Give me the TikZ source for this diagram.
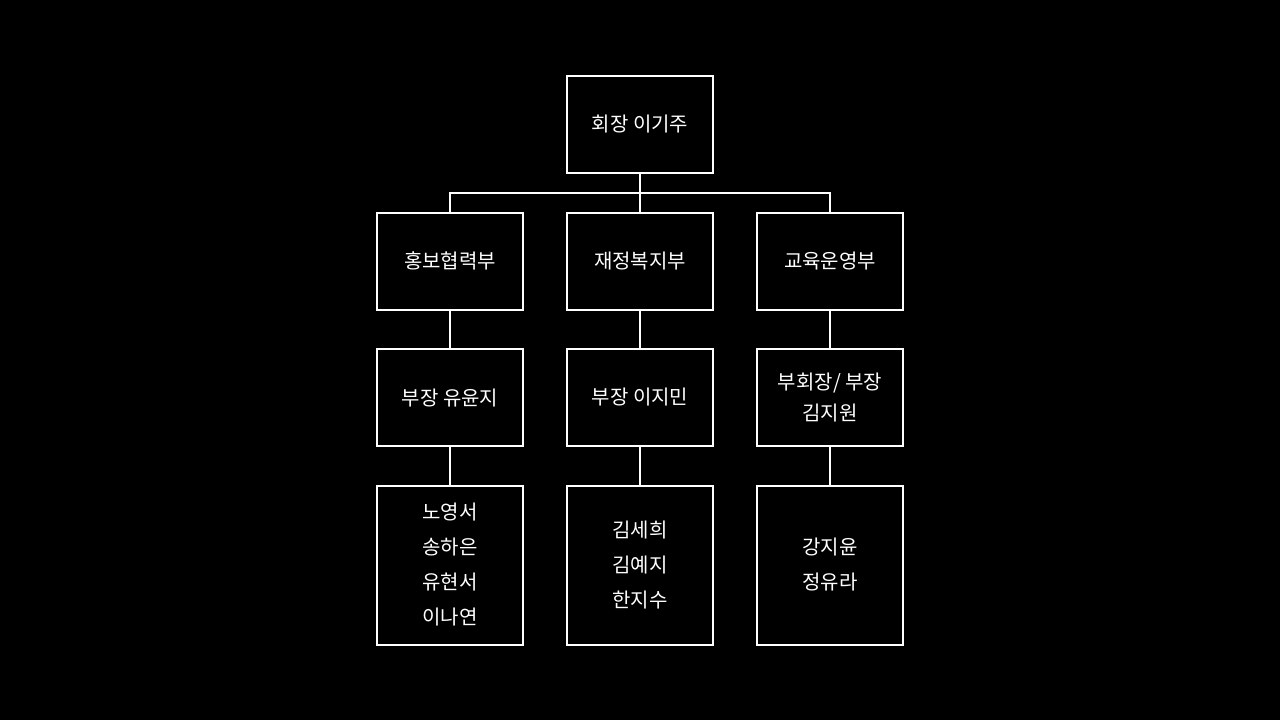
\documentclass[tikz,border=0pt]{standalone}
\usepackage{fontspec}
\setmainfont{Noto Sans CJK KR}
\usetikzlibrary{positioning,calc}

\begin{document}
\begin{tikzpicture}[x=1pt,y=1pt,node distance=18.75pt and 21pt,member/.style={rectangle, draw=white, line width=1pt, text=white, inner sep=0pt, minimum width=73pt, minimum height=48.5pt, align=center, font=\fontsize{10}{15.5}\selectfont},team/.style={member, minimum height=79.5pt, font=\fontsize{10}{17.5}\selectfont},link/.style={draw=white, line width=1pt}]
                \fill[black] (0,0) rectangle (640,-360);
                \useasboundingbox (0,0) rectangle (640,-360);
                \node[member] (president) at (320,-62.25) {회장 이기주};
                \node[member, below=of president] (finance) {재정복지부};
                \node[member, left=of finance] (promo) {홍보협력부};
                \node[member, right=of finance] (edu) {교육운영부};
                \node[member, below=of promo] (promo_head) {부장 유윤지};
                \node[member, below=of finance] (finance_head) {부장 이지민};
                \node[member, below=of edu] (edu_head) {부회장/ 부장\\김지원};
                \node[team, below=of promo_head] (promo_team) {노영서\\송하은\\유현서\\이나연};
                \node[team, below=of finance_head] (finance_team) {김세희\\김예지\\한지수};
                \node[team, below=of edu_head] (edu_team) {강지윤\\정유라};
                \coordinate (bus) at ($(president.south)!0.5!(finance.north)$);
                \draw[link] (president) -- (finance);
                \draw[link] (promo.north) |- (bus) -| (edu.north);
                \draw[link] (promo) -- (promo_head);
                \draw[link] (finance) -- (finance_head);
                \draw[link] (edu) -- (edu_head);
                \draw[link] (promo_head) -- (promo_team);
                \draw[link] (finance_head) -- (finance_team);
                \draw[link] (edu_head) -- (edu_team);
            \end{tikzpicture}
\end{document}
